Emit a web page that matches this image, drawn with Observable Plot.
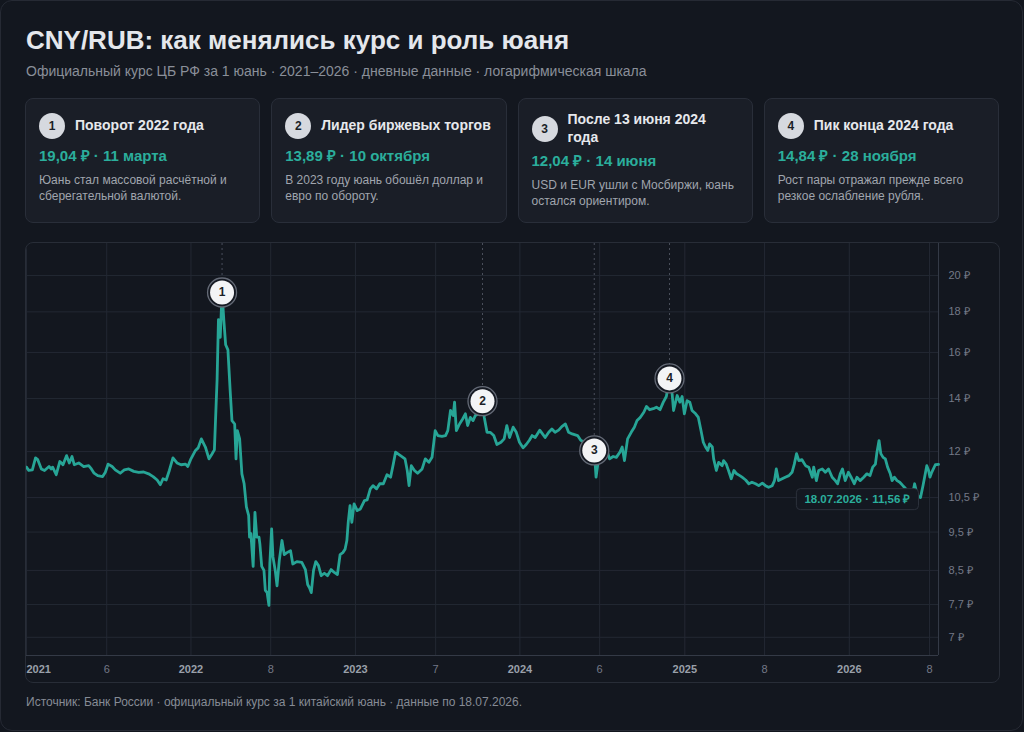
<!DOCTYPE html>
<html lang="ru">
<head>
<meta charset="utf-8">
<script src="https://cdn.jsdelivr.net/npm/d3@7"></script>
<script src="https://cdn.jsdelivr.net/npm/@observablehq/plot@0.6"></script>
<style>
  html, body { margin: 0; padding: 0; background: #12161e; }
  body { width: 1024px; height: 732px; position: relative; overflow: hidden;
         font-family: "Liberation Sans", Arial, sans-serif; color: #e6e8ec; }
  .frame { position: absolute; left: 0; top: 0; width: 1023px; height: 731px; box-sizing: border-box;
           border: 1px solid #262a34; border-radius: 12px; background: #13171f; }
  h1 { position: absolute; left: 26px; top: 25px; margin: 0; font-size: 26px; line-height: 30px;
       font-weight: 700; color: #e4e7ec; white-space: nowrap; }
  .sub { position: absolute; left: 26px; top: 62px; font-size: 14px; line-height: 18px; color: #8a8f99; white-space: nowrap; }
  .cards { position: absolute; left: 25px; top: 98px; width: 974px; height: 125px;
           display: grid; grid-template-columns: repeat(4, 1fr); column-gap: 11px; }
  .card { box-sizing: border-box; background: #1a1e27; border: 1px solid #292e39; border-radius: 8px;
          padding: 12px 13px 10px 13px; }
  .head { display: flex; align-items: center; gap: 10px; min-height: 30px; }
  .badge { flex: 0 0 26px; width: 26px; height: 26px; border-radius: 50%; background: #d6d9df; color: #1b1f27;
           font-size: 12px; font-weight: 700; display: flex; align-items: center; justify-content: center; }
  .ctitle { font-size: 14px; line-height: 17.5px; font-weight: 700; color: #e6e8ec; white-space: pre-line; }
  .cval { margin-top: 5px; font-size: 15px; line-height: 20px; font-weight: 700; color: #2bae9c; }
  .cdesc { margin-top: 6px; font-size: 12px; line-height: 16px; color: #a0a5ae; white-space: pre-line; }
  .panel { position: absolute; left: 25px; top: 242px; width: 975px; height: 441px; box-sizing: border-box;
           border: 1px solid #282d37; border-radius: 8px; overflow: hidden; background: #13171f; }
  .foot { position: absolute; left: 26px; top: 694px; font-size: 12px; line-height: 16px; color: #868b95; white-space: nowrap; }
</style>
</head>
<body>
<div class="frame"></div>
<h1 id="title"></h1>
<div class="sub" id="subtitle"></div>
<div class="cards" id="cards"></div>
<div class="panel" id="panel"></div>
<div class="foot" id="footer"></div>
<script>
// ---- Texts ----
const titleText = "CNY/RUB: как менялись курс и роль юаня";
const subtitleText = "Официальный курс ЦБ РФ за 1 юань · 2021–2026 · дневные данные · логарифмическая шкала";
const footerText = "Источник: Банк России · официальный курс за 1 китайский юань · данные по 18.07.2026.";

// ---- CNY/RUB official rate (₽ per 1 yuan) ----
const rateDates = [
  "2021-01-01","2021-01-06","2021-01-14","2021-01-21","2021-01-26","2021-02-03","2021-02-10","2021-02-20","2021-02-25","2021-02-28",
  "2021-03-08","2021-03-16","2021-03-23","2021-03-31","2021-04-06","2021-04-12","2021-04-17","2021-04-27","2021-05-08","2021-05-19",
  "2021-05-25","2021-05-31","2021-06-08","2021-06-19","2021-06-25","2021-07-01","2021-07-10","2021-07-17","2021-07-28","2021-08-06",
  "2021-08-16","2021-08-27","2021-09-07","2021-09-18","2021-09-29","2021-10-09","2021-10-18","2021-10-25","2021-10-31","2021-11-07",
  "2021-11-14","2021-11-22","2021-12-01","2021-12-10","2021-12-20","2021-12-25",
  "2022-01-01","2022-01-11","2022-01-17","2022-01-24","2022-02-02","2022-02-10","2022-02-16","2022-02-22","2022-02-26","2022-02-28",
  "2022-03-03","2022-03-07","2022-03-11","2022-03-15","2022-03-19","2022-03-24","2022-03-29","2022-04-02","2022-04-08","2022-04-11",
  "2022-04-14","2022-04-19","2022-04-24","2022-04-29","2022-05-04","2022-05-09","2022-05-11","2022-05-14","2022-05-19","2022-05-23",
  "2022-05-27","2022-06-01","2022-06-03","2022-06-07","2022-06-12","2022-06-15","2022-06-19","2022-06-23","2022-06-25","2022-06-29",
  "2022-07-02","2022-07-07","2022-07-11","2022-07-16","2022-07-22","2022-07-27","2022-08-02","2022-08-10","2022-08-15","2022-08-24",
  "2022-09-04","2022-09-12","2022-09-17","2022-09-21","2022-09-25","2022-09-30","2022-10-05","2022-10-11","2022-10-17","2022-10-24",
  "2022-10-31","2022-11-08","2022-11-15","2022-11-22","2022-11-28","2022-12-04","2022-12-09","2022-12-13","2022-12-16","2022-12-20",
  "2022-12-24","2022-12-29",
  "2023-01-05","2023-01-12","2023-01-21","2023-01-27","2023-02-03","2023-02-09","2023-02-17","2023-02-24","2023-03-04","2023-03-12",
  "2023-03-20","2023-03-26","2023-03-31","2023-04-11","2023-04-21","2023-04-26","2023-04-30","2023-05-05","2023-05-12","2023-05-19",
  "2023-05-29","2023-06-05","2023-06-13","2023-06-20","2023-06-27","2023-07-03","2023-07-12","2023-07-20","2023-07-25","2023-07-31",
  "2023-08-06","2023-08-09","2023-08-13","2023-08-20","2023-08-27","2023-09-02","2023-09-07","2023-09-13","2023-09-19","2023-09-24",
  "2023-10-02","2023-10-10","2023-10-14","2023-10-20","2023-10-27","2023-11-04","2023-11-11","2023-11-20","2023-11-27","2023-12-03",
  "2023-12-09","2023-12-17","2023-12-24","2023-12-31",
  "2024-01-08","2024-01-15","2024-01-22","2024-01-28","2024-02-04","2024-02-14","2024-02-19","2024-02-26","2024-03-05","2024-03-12",
  "2024-03-19","2024-03-27","2024-04-03","2024-04-11","2024-04-18","2024-04-26","2024-05-08","2024-05-15","2024-05-23","2024-06-05",
  "2024-06-14","2024-06-18","2024-06-22","2024-06-27","2024-07-02","2024-07-07","2024-07-12","2024-07-18","2024-07-26","2024-08-02",
  "2024-08-10","2024-08-15","2024-08-20","2024-08-27","2024-09-04","2024-09-11","2024-09-17","2024-09-24","2024-10-02","2024-10-08",
  "2024-10-15","2024-10-23","2024-10-30","2024-11-07","2024-11-14","2024-11-21","2024-11-28","2024-12-04","2024-12-07","2024-12-15",
  "2024-12-21","2024-12-26","2024-12-31",
  "2025-01-06","2025-01-12","2025-01-17","2025-01-25","2025-01-31","2025-02-06","2025-02-11","2025-02-16","2025-02-21","2025-02-25",
  "2025-03-03","2025-03-06","2025-03-12","2025-03-17","2025-03-25","2025-03-28","2025-04-03","2025-04-08","2025-04-14","2025-04-20",
  "2025-04-26","2025-05-03","2025-05-08","2025-05-16","2025-05-23","2025-05-30","2025-06-07","2025-06-14","2025-06-22","2025-06-29",
  "2025-07-06","2025-07-14","2025-07-19","2025-07-23","2025-07-28","2025-08-05","2025-08-12","2025-08-20","2025-08-27","2025-09-01",
  "2025-09-06","2025-09-11","2025-09-18","2025-09-26","2025-10-03","2025-10-11","2025-10-14","2025-10-20","2025-10-25","2025-11-02",
  "2025-11-09","2025-11-16","2025-11-24","2025-12-01","2025-12-06","2025-12-12","2025-12-17","2025-12-23","2025-12-30",
  "2026-01-05","2026-01-12","2026-01-18","2026-01-25","2026-02-02","2026-02-09","2026-02-16","2026-02-22","2026-02-28","2026-03-03",
  "2026-03-08","2026-03-12","2026-03-17","2026-03-22","2026-03-27","2026-04-02","2026-04-06","2026-04-11","2026-04-17","2026-04-23",
  "2026-04-30","2026-05-05","2026-05-13","2026-05-20","2026-05-26","2026-06-01","2026-06-08","2026-06-14","2026-06-22","2026-06-26",
  "2026-06-29","2026-07-03","2026-07-11","2026-07-18"
];
const rateValues = [
  11.47,11.36,11.38,11.78,11.72,11.41,11.36,11.49,11.41,11.47,
  11.22,11.66,11.55,11.86,11.61,11.83,11.55,11.61,11.49,11.52,
  11.41,11.27,11.19,11.16,11.30,11.57,11.49,11.38,11.27,11.38,
  11.41,11.33,11.30,11.31,11.25,11.16,11.05,10.90,11.09,11.05,
  11.36,11.78,11.61,11.55,11.57,11.49,
  11.75,12.04,12.13,12.45,12.16,11.75,11.90,12.06,13.84,14.79,
  17.60,16.72,19.04,17.55,16.36,16.12,14.32,13.13,13.00,11.75,
  12.75,12.45,11.25,10.93,10.22,9.97,9.36,9.46,8.60,10.06,
  9.36,9.36,9.17,8.60,8.50,8.02,7.97,7.68,8.66,9.59,
  8.84,8.50,8.13,8.75,9.27,8.90,8.95,9.00,8.66,8.72,
  8.70,8.52,8.16,8.08,7.97,8.50,8.72,8.62,8.37,8.43,
  8.37,8.52,8.45,8.40,8.90,8.95,9.04,9.27,9.77,10.26,
  9.77,10.31,
  10.11,10.16,10.41,10.43,10.77,10.87,10.77,10.93,10.93,11.22,
  11.14,11.57,11.98,11.86,11.75,11.36,10.87,11.52,11.36,11.27,
  11.41,11.75,11.63,11.80,12.75,12.57,12.54,12.57,12.75,13.52,
  13.32,13.85,12.75,13.00,13.19,13.39,12.94,13.25,13.13,13.32,
  13.39,13.89,13.25,12.69,12.69,12.57,12.25,12.33,12.45,12.94,
  12.50,12.88,12.69,12.33,
  12.13,12.25,12.40,12.57,12.50,12.77,12.66,12.50,12.69,12.81,
  12.69,12.77,12.90,13.00,12.69,12.63,12.57,12.40,12.33,12.16,
  12.04,11.14,11.57,11.75,11.98,12.06,12.04,11.75,11.83,11.80,
  11.98,12.16,11.69,12.45,12.69,12.88,13.13,13.25,13.45,13.68,
  13.55,13.59,13.65,13.55,13.84,14.08,14.84,14.16,13.52,14.12,
  13.85,14.08,13.39,
  13.91,13.85,13.52,13.39,13.25,12.75,12.33,12.16,12.04,12.27,
  12.16,11.75,11.36,11.63,11.52,11.69,11.57,11.36,11.09,11.36,
  11.25,11.19,11.14,11.05,10.93,10.98,10.93,10.87,10.95,10.87,
  10.82,10.87,11.03,11.41,11.03,11.09,11.14,11.19,11.30,11.57,
  11.93,11.69,11.72,11.52,11.47,11.14,11.47,11.03,11.36,11.41,
  11.30,11.41,11.14,11.03,10.93,11.25,11.41,11.03,11.30,
  11.14,10.93,11.14,11.03,11.14,11.25,11.19,11.47,11.57,11.93,
  12.39,11.93,11.80,11.75,11.47,11.25,11.03,11.14,11.03,10.98,
  10.87,10.80,10.61,10.50,10.93,10.56,10.50,10.90,11.52,11.36,
  11.14,11.30,11.55,11.56
];

// ---- Annotated events ----
const noteIds = [1, 2, 3, 4];
const noteDates = ["2022-03-11", "2023-10-10", "2024-06-14", "2024-11-28"];
const noteValues = [19.04, 13.89, 12.04, 14.84];
const noteDayLabels = ["11 марта", "10 октября", "14 июня", "28 ноября"];
const noteTitles = ["Поворот 2022 года", "Лидер биржевых торгов", "После 13 июня 2024\nгода", "Пик конца 2024 года"];
const noteTexts = [
  "Юань стал массовой расчётной и\nсберегательной валютой.",
  "В 2023 году юань обошёл доллар и\nевро по обороту.",
  "USD и EUR ушли с Мосбиржи, юань\nостался ориентиром.",
  "Рост пары отражал прежде всего\nрезкое ослабление рубля."
];

// ---- Axes ----
const yTicks = [7, 7.7, 8.5, 9.5, 10.5, 12, 14, 16, 18, 20];
const yDomain = [6.64, 21.95];
const xTickDates = ["2021-01-01","2021-06-28","2022-01-01","2022-06-27","2023-01-01","2023-06-28",
                    "2024-01-01","2024-06-26","2025-01-01","2025-06-27","2026-01-01","2026-06-28"];
const xTickLabels = ["2021","6","2022","8","2023","7","2024","6","2025","8","2026","8"];

// ---- Build tables ----
const series = rateDates.map((d, i) => ({date: new Date(d), value: rateValues[i]}));
const notes = noteIds.map((id, i) => ({id, date: new Date(noteDates[i]), value: noteValues[i]}));
const xTicks = xTickDates.map((d, i) => ({date: new Date(d), label: xTickLabels[i], year: i % 2 === 0, first: i === 0}));
const last = series[series.length - 1];

const rub = v => String(v).replace(".", ",") + " ₽";
const rub2 = v => v.toFixed(2).replace(".", ",") + " ₽";

// ---- Header, cards, footer ----
document.getElementById("title").textContent = titleText;
document.getElementById("subtitle").textContent = subtitleText;
document.getElementById("footer").textContent = footerText;

const cards = d3.select("#cards").selectAll("div.card").data(notes).join("div").attr("class", "card");
const head = cards.append("div").attr("class", "head");
head.append("div").attr("class", "badge").text(d => d.id);
head.append("div").attr("class", "ctitle").text((d, i) => noteTitles[i]);
cards.append("div").attr("class", "cval").text((d, i) => `${rub2(d.value)} · ${noteDayLabels[i]}`);
cards.append("div").attr("class", "cdesc").text((d, i) => noteTexts[i]);

// ---- Chart ----
const teal = "#27a596";
const grid = "#232833";
const endText = `${d3.utcFormat("%d.%m.%Y")(last.date)} · ${rub2(last.value)}`;

const chart = Plot.plot({
  width: 973,
  height: 439,
  marginTop: 0,
  marginRight: 61,
  marginBottom: 27,
  marginLeft: 0,
  style: {background: "transparent", color: "#737987", fontFamily: "'Liberation Sans', Arial, sans-serif", fontSize: "11px", overflow: "visible"},
  x: {type: "utc", domain: [series[0].date, last.date], axis: null},
  y: {type: "log", domain: yDomain, axis: null},
  marks: [
    Plot.ruleY(yTicks, {stroke: grid, strokeWidth: 1}),
    Plot.ruleX(xTicks, {x: "date", stroke: grid, strokeWidth: 1}),
    Plot.ruleX([last], {x: "date", stroke: "#343a46"}),
    Plot.ruleY([yDomain[0]], {stroke: "#343a46"}),
    Plot.axisY(yTicks, {anchor: "right", label: null, tickSize: 0, tickPadding: 10, tickFormat: rub, fill: "#737987", fontSize: 11}),
    Plot.text(xTicks.filter(d => d.first), {x: "date", text: "label", frameAnchor: "bottom", dy: 17, textAnchor: "start", fill: "#9aa0aa", fontWeight: 700, fontSize: 11}),
    Plot.text(xTicks.filter(d => d.year && !d.first), {x: "date", text: "label", frameAnchor: "bottom", dy: 17, fill: "#9aa0aa", fontWeight: 700, fontSize: 11}),
    Plot.text(xTicks.filter(d => !d.year), {x: "date", text: "label", frameAnchor: "bottom", dy: 17, fill: "#737987", fontSize: 11}),
    Plot.ruleX(notes, {x: "date", y1: yDomain[1], y2: "value", stroke: "#4a4f5b", strokeDasharray: "2,3"}),
    Plot.line(series, {x: "date", y: "value", stroke: teal, strokeWidth: 2.8, strokeLinejoin: "round", strokeLinecap: "round"}),
    Plot.text([last], {x: "date", y: "value", text: () => endText, textAnchor: "end", dx: -28, dy: 35,
                       fill: "#2bae9c", fontWeight: 700, fontSize: 11.5}),
    Plot.dot(notes, {x: "date", y: "value", r: 14.5, fill: "#151922", stroke: "#646a76", strokeWidth: 1.3}),
    Plot.dot(notes, {x: "date", y: "value", r: 12, fill: "#f3f4f6"}),
    Plot.text(notes, {x: "date", y: "value", text: d => String(d.id), fill: "#1b1f27", fontWeight: 700, fontSize: 12})
  ]
});

document.getElementById("panel").appendChild(chart);

// Rounded backdrop behind the last-value label
const endNode = Array.from(chart.querySelectorAll("text")).find(t => t.textContent === endText);
if (endNode) {
  const b = endNode.getBBox();
  const rect = document.createElementNS("http://www.w3.org/2000/svg", "rect");
  rect.setAttribute("x", b.x - 8);
  rect.setAttribute("y", b.y - 4.5);
  rect.setAttribute("width", b.width + 16);
  rect.setAttribute("height", b.height + 9);
  rect.setAttribute("rx", 4);
  rect.setAttribute("fill", "#141821");
  rect.setAttribute("stroke", "#2c313c");
  const t = endNode.getAttribute("transform");
  if (t) rect.setAttribute("transform", t);
  endNode.parentNode.insertBefore(rect, endNode);
}
</script>
</body>
</html>
